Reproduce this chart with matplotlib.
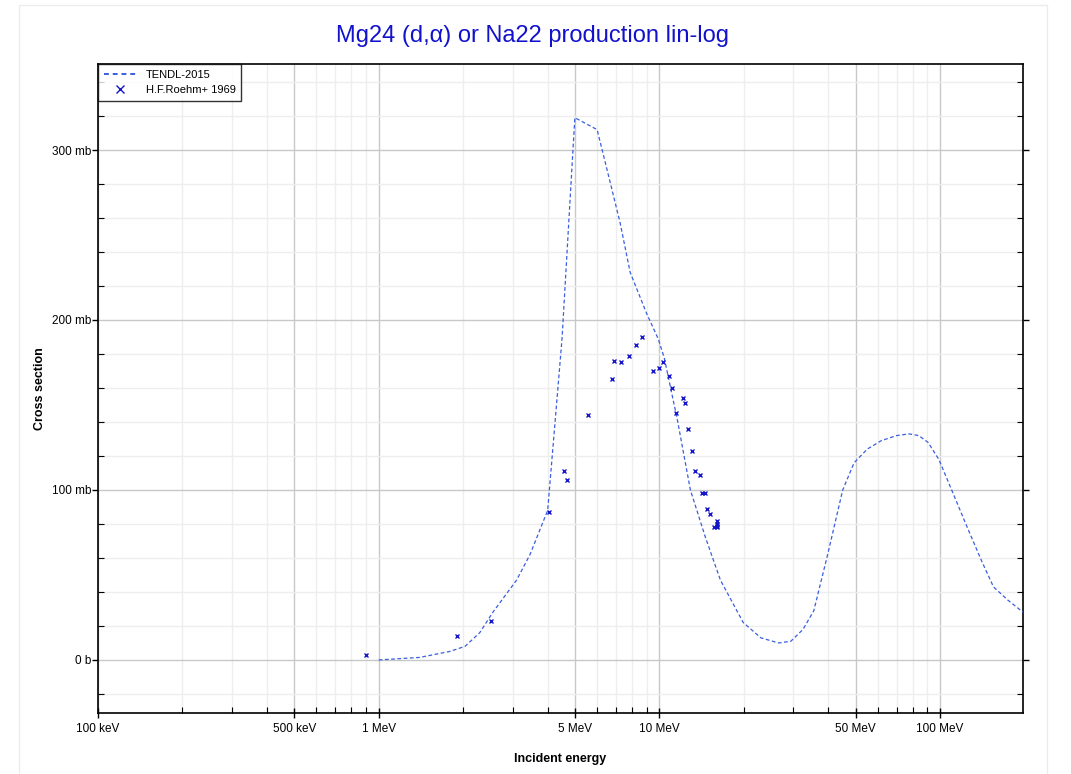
import matplotlib
matplotlib.use("Agg")
import matplotlib.pyplot as plt
from matplotlib.ticker import FixedLocator, FuncFormatter, NullFormatter
from matplotlib.patches import Rectangle

plt.rcParams['font.family'] = ['Liberation Sans', 'DejaVu Sans']

title = "Mg24 (d,\u03b1) or Na22 production lin-log"

# TENDL-2015 evaluation (energy in MeV, cross section in mb)
tendl_e = [1.0, 1.4, 1.79, 2.03, 2.29, 2.55, 3.1, 3.46, 4.0, 4.5, 4.93, 5.0,
           6.0, 6.68, 7.25, 7.87, 9.0, 9.9, 10.4, 11.6, 12.9, 14.6, 16.5,
           19.9, 23.0, 26.6, 29.4, 32.5, 35.5, 39.9, 45.0, 49.4, 55.0, 61.7,
           70.0, 77.5, 84.0, 90.6, 99.0, 110.0, 125.0, 140.0, 155.0, 175.0, 198.0]
tendl_xs = [0.0, 1.5, 5.0, 8.0, 16.0, 28.0, 47.0, 62.0, 88.0, 189.0, 302.0, 319.0,
            312.0, 281.0, 257.0, 228.0, 204.0, 189.0, 178.0, 141.0, 100.0, 72.0, 47.0,
            22.0, 13.0, 10.0, 11.0, 18.0, 29.0, 63.0, 100.0, 116.0, 124.0, 129.0,
            132.0, 133.0, 132.0, 128.0, 118.0, 100.0, 78.0, 59.0, 43.0, 35.0, 28.0]

# H.F.Roehm+ 1969 measurements
exp_e = [0.9, 1.90, 2.51, 4.05, 4.58, 4.69, 5.57, 6.80, 6.90, 7.27, 7.81, 8.27,
         8.70, 9.50, 10.0, 10.3, 10.8, 11.1, 11.5, 12.1, 12.3, 12.6, 13.1, 13.4,
         13.9, 14.2, 14.6, 14.8, 15.1, 16.1, 16.1, 15.6, 16.1, 16.0]
exp_xs = [3, 14, 23, 87, 111, 106, 144, 165, 176, 175, 179, 185,
          190, 170, 172, 175, 167, 160, 145, 154, 151, 136, 123, 111,
          109, 98, 98, 89, 86, 82, 80, 78, 78, 79]

xmajor = [0.1, 0.5, 1, 5, 10, 50, 100]
xmajor_labels = ["100 keV", "500 keV", "1 MeV", "5 MeV", "10 MeV", "50 MeV", "100 MeV"]
ymajor = [0, 100, 200, 300]

fig = plt.figure(figsize=(10.71, 7.74), dpi=100)
fig.patches.append(Rectangle((19/1071, -0.01), (1047-19)/1071, 1 - 5/774 + 0.01,
                             transform=fig.transFigure, fill=False,
                             edgecolor='#ececec', lw=1.0))
ax = fig.add_axes([98/1071, 1 - 713/774, (1022.7-98)/1071, (713-64)/774])

ax.plot(tendl_e, tendl_xs, linestyle=(0, (3, 2)), color='#3a5ee0', lw=0.9,
        label='TENDL-2015', zorder=3)
ax.plot(exp_e, exp_xs, linestyle='none', marker='x', color='#1515c8',
        markersize=3.5, mew=1.0, label='H.F.Roehm+ 1969', zorder=4)

ax.set_xscale('log')
ax.set_xlim(0.1, 197)
ax.set_ylim(-31.2, 350.6)

# x ticks
ax.xaxis.set_major_locator(FixedLocator(xmajor))
ax.set_xticklabels(xmajor_labels)
xminor = []
for dec in [0.1, 1, 10, 100]:
    for m in [2, 3, 4, 6, 7, 8, 9]:
        v = dec * m
        if v < 197:
            xminor.append(v)
ax.xaxis.set_minor_locator(FixedLocator(xminor))
ax.xaxis.set_minor_formatter(NullFormatter())

# y ticks
ax.yaxis.set_major_locator(FixedLocator(ymajor))
ax.yaxis.set_minor_locator(FixedLocator([-20, 20, 40, 60, 80, 120, 140, 160, 180,
                                         220, 240, 260, 280, 320, 340]))
ax.yaxis.set_major_formatter(FuncFormatter(lambda v, p: "0 b" if v == 0 else f"{int(v)} mb"))

ax.tick_params(axis='x', which='major', direction='inout', length=7, width=1,
               labelsize=8.5, pad=4)
ax.tick_params(axis='x', which='minor', direction='in', length=4, width=0.8)
ax.tick_params(axis='y', which='major', direction='out', length=4, width=1,
               labelsize=8.5, right=True, pad=1)
ax.tick_params(axis='y', which='minor', direction='in', length=4, width=0.8, right=True)

ax.grid(True, which='major', color='#c8c8c8', lw=1.0, zorder=0)
ax.grid(True, which='minor', color='#eeeeee', lw=1.0, zorder=0)
ax.set_axisbelow(True)

for s in ax.spines.values():
    s.set_linewidth(1.2)

ax.set_xlabel("Incident energy", fontsize=9, fontweight='bold', labelpad=13)
ax.set_ylabel("Cross section", fontsize=9, fontweight='bold', labelpad=4)

fig.text(533/1071, 1 - 36/774, title, color='#1212cc', fontsize=17,
         ha='center', va='center')

leg = ax.legend(loc='upper left', fontsize=8, frameon=True, fancybox=False,
                edgecolor='black', borderaxespad=0, handlelength=3.0,
                handletextpad=0.8, borderpad=0.5, labelspacing=0.5)
leg.get_frame().set_linewidth(1.0)
leg.legend_handles[0].set_linestyle((0, (2.5, 2)))
leg.legend_handles[0].set_linewidth(1.4)
leg.legend_handles[1].set_markersize(6)

fig.savefig("out.png", dpi=100)
